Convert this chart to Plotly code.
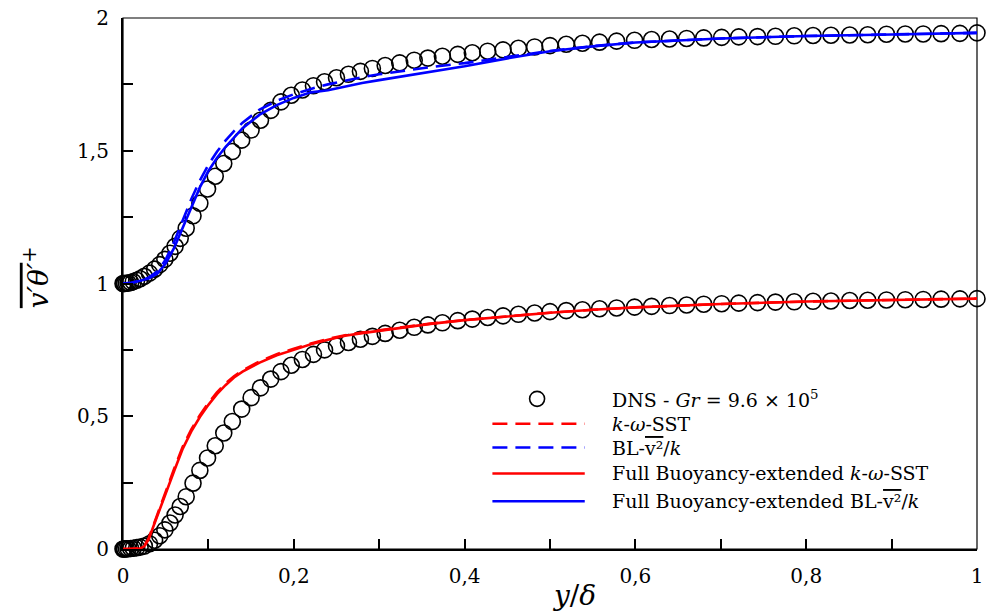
import plotly.graph_objects as go

# ---------------- data ----------------
X_DNS = [0.000, 0.001, 0.002, 0.004, 0.006, 0.009, 0.012, 0.016, 0.020, 0.025,
         0.031, 0.037, 0.043, 0.049, 0.055, 0.061, 0.067, 0.074, 0.082, 0.090,
         0.099, 0.108, 0.118, 0.128, 0.139, 0.150, 0.161, 0.173, 0.185, 0.197,
         0.210, 0.223, 0.236, 0.250, 0.264, 0.278, 0.292, 0.307, 0.324, 0.341,
         0.357, 0.374, 0.392, 0.409, 0.427, 0.445, 0.463, 0.482, 0.500, 0.519,
         0.538, 0.558, 0.578, 0.599, 0.619, 0.640, 0.660, 0.680, 0.701, 0.721,
         0.743, 0.764, 0.786, 0.808, 0.829, 0.851, 0.872, 0.894, 0.916, 0.937,
         0.958, 0.980, 1.000]

DNS_LOWER = [0.000, 0.000, 0.000, 0.001, 0.001, 0.002, 0.003, 0.005, 0.007, 0.011,
             0.020, 0.033, 0.050, 0.072, 0.098, 0.128, 0.160, 0.197, 0.248, 0.296,
             0.343, 0.389, 0.437, 0.480, 0.527, 0.570, 0.607, 0.640, 0.668, 0.692,
             0.714, 0.733, 0.750, 0.765, 0.778, 0.790, 0.801, 0.812, 0.824, 0.835,
             0.844, 0.852, 0.860, 0.866, 0.872, 0.878, 0.884, 0.889, 0.894, 0.898,
             0.901, 0.905, 0.908, 0.911, 0.914, 0.917, 0.919, 0.922, 0.924, 0.926,
             0.928, 0.930, 0.931, 0.933, 0.934, 0.936, 0.937, 0.938, 0.939, 0.940,
             0.941, 0.942, 0.943]

DNS_UPPER = [1.000, 1.000, 1.000, 1.001, 1.002, 1.004, 1.007, 1.012, 1.018, 1.027,
             1.039, 1.054, 1.071, 1.091, 1.114, 1.140, 1.170, 1.208, 1.255, 1.302,
             1.356, 1.404, 1.452, 1.497, 1.540, 1.578, 1.615, 1.652, 1.684, 1.709,
             1.729, 1.745, 1.760, 1.775, 1.788, 1.799, 1.810, 1.821, 1.831, 1.841,
             1.849, 1.856, 1.863, 1.869, 1.875, 1.880, 1.886, 1.891, 1.896, 1.901,
             1.905, 1.909, 1.913, 1.916, 1.919, 1.921, 1.923, 1.925, 1.927, 1.929,
             1.930, 1.931, 1.933, 1.934, 1.935, 1.936, 1.937, 1.939, 1.940, 1.940,
             1.941, 1.942, 1.944]

X_BLUE = [0.00, 0.01, 0.02, 0.03, 0.04, 0.05, 0.06, 0.07, 0.08, 0.09, 0.10, 0.11,
          0.12, 0.13, 0.14, 0.16, 0.18, 0.20, 0.22, 0.24, 0.26, 0.28, 0.30, 0.33,
          0.36, 0.40, 0.45, 0.50, 0.55, 0.60, 0.70, 0.80, 0.90, 1.00]
BL_V2K = [1.000, 1.003, 1.011, 1.022, 1.045, 1.090, 1.158, 1.238, 1.318, 1.388,
          1.447, 1.496, 1.538, 1.574, 1.606, 1.655, 1.688, 1.713, 1.733, 1.750,
          1.764, 1.777, 1.788, 1.802, 1.815, 1.830, 1.852, 1.876, 1.894, 1.908,
          1.923, 1.932, 1.938, 1.944]
FULL_BL_V2K = [1.000, 1.003, 1.010, 1.019, 1.037, 1.075, 1.135, 1.212, 1.292, 1.362,
               1.424, 1.473, 1.514, 1.551, 1.585, 1.636, 1.672, 1.699, 1.720, 1.728,
               1.742, 1.755, 1.766, 1.781, 1.796, 1.818, 1.848, 1.875, 1.893, 1.908,
               1.923, 1.932, 1.938, 1.944]

X_RED = [0.00, 0.01, 0.02, 0.025, 0.03, 0.035, 0.04, 0.05, 0.06, 0.07, 0.08, 0.09,
         0.10, 0.11, 0.12, 0.13, 0.14, 0.16, 0.18, 0.20, 0.22, 0.24, 0.26, 0.28,
         0.30, 0.33, 0.36, 0.40, 0.45, 0.50, 0.55, 0.60, 0.70, 0.80, 0.90, 1.00]
K_OMEGA_SST = [0.000, 0.000, 0.003, 0.012, 0.040, 0.085, 0.130, 0.217, 0.303, 0.386,
               0.451, 0.504, 0.550, 0.590, 0.623, 0.651, 0.673, 0.707, 0.734, 0.754,
               0.774, 0.791, 0.805, 0.815, 0.824, 0.838, 0.849, 0.862, 0.877, 0.890,
               0.901, 0.910, 0.923, 0.932, 0.938, 0.943]
FULL_K_OMEGA_SST = [0.000, 0.000, 0.002, 0.010, 0.036, 0.080, 0.124, 0.210, 0.295, 0.378,
                    0.443, 0.497, 0.543, 0.583, 0.617, 0.646, 0.668, 0.702, 0.730, 0.750,
                    0.771, 0.788, 0.803, 0.813, 0.822, 0.837, 0.848, 0.862, 0.877, 0.890,
                    0.901, 0.910, 0.923, 0.932, 0.938, 0.943]

X_TICKS = [0, 0.2, 0.4, 0.6, 0.8, 1.0]
X_TICK_TEXT = ["0", "0,2", "0,4", "0,6", "0,8", "1"]
Y_TICKS = [0, 0.5, 1.0, 1.5, 2.0]
Y_TICK_TEXT = ["0", "0,5", "1", "1,5", "2"]

LEGEND_LABELS = [
    "DNS - <i>Gr</i> = 9.6 × 10<sup>5</sup>",
    "<i>k</i>-<i>ω</i>-SST",
    "BL-<span style='text-decoration:overline'>v²</span>/<i>k</i>",
    "Full Buoyancy-extended <i>k</i>-<i>ω</i>-SST",
    "Full Buoyancy-extended BL-<span style='text-decoration:overline'>v²</span>/<i>k</i>",
]

# ---------------- styling ----------------
RED = "#ff0000"
BLUE = "#0000ff"
SERIF = "DejaVu Serif, Liberation Serif, serif"
DASH = "15px,8px"

fig = go.Figure()

for ys in (DNS_LOWER, DNS_UPPER):
    fig.add_trace(go.Scatter(x=X_DNS, y=ys, mode="markers", cliponaxis=False,
                             marker=dict(symbol="circle-open", size=16, color="black",
                                         line=dict(width=1.6, color="black")),
                             showlegend=False))

fig.add_trace(go.Scatter(x=X_RED, y=K_OMEGA_SST, mode="lines", line=dict(color=RED, width=2.6, dash=DASH),
                         showlegend=False))
fig.add_trace(go.Scatter(x=X_BLUE, y=BL_V2K, mode="lines", line=dict(color=BLUE, width=2.6, dash=DASH),
                         showlegend=False))
fig.add_trace(go.Scatter(x=X_RED, y=FULL_K_OMEGA_SST, mode="lines", line=dict(color=RED, width=2.6),
                         showlegend=False))
fig.add_trace(go.Scatter(x=X_BLUE, y=FULL_BL_V2K, mode="lines", line=dict(color=BLUE, width=2.6),
                         showlegend=False))

# ---------------- custom legend ----------------
PLOT_L, PLOT_R, PLOT_T, PLOT_B = 123, 983, 15, 549
def px_to_paper_x(px):
    return (px - PLOT_L) / (PLOT_R - PLOT_L)
def px_to_paper_y(py):
    return (PLOT_B - py) / (PLOT_B - PLOT_T)

row_y = [398, 423, 447, 473, 501]
line_x0, line_x1, text_x, circ_x = 495, 588, 613, 540
styles = [None, (RED, DASH), (BLUE, DASH), (RED, "solid"), (BLUE, "solid")]

shapes = []
annotations = []
for i, (label, st) in enumerate(zip(LEGEND_LABELS, styles)):
    yp = px_to_paper_y(row_y[i])
    if st is None:
        shapes.append(dict(type="circle", xref="paper", yref="paper",
                           xsizemode="pixel", ysizemode="pixel",
                           xanchor=px_to_paper_x(circ_x), yanchor=yp,
                           x0=-7.5, x1=7.5, y0=-7.5, y1=7.5,
                           line=dict(color="black", width=1.6)))
    else:
        shapes.append(dict(type="line", xref="paper", yref="paper",
                           x0=px_to_paper_x(line_x0), x1=px_to_paper_x(line_x1),
                           y0=yp, y1=yp, line=dict(color=st[0], width=2.6, dash=st[1])))
    annotations.append(dict(text=label, xref="paper", yref="paper",
                            x=px_to_paper_x(text_x), y=yp, xanchor="left", yanchor="middle",
                            showarrow=False, font=dict(family=SERIF, size=19, color="black")))

# frame (thin top/right)
shapes.append(dict(type="rect", xref="paper", yref="paper", x0=0, x1=1, y0=0, y1=1,
                   line=dict(color="black", width=1.2), layer="below"))

# axis titles
annotations.append(dict(text="<i>y</i>/<i>δ</i>", xref="paper", yref="paper",
                        x=px_to_paper_x(577), y=px_to_paper_y(596),
                        xanchor="center", yanchor="middle", showarrow=False,
                        font=dict(family=SERIF, size=28, color="black")))
annotations.append(dict(text="<span style='text-decoration:overline'><i>v′θ′</i></span><sup>+</sup>",
                        xref="paper", yref="paper", textangle=-90,
                        x=px_to_paper_x(36), y=px_to_paper_y(276),
                        xanchor="center", yanchor="middle", showarrow=False,
                        font=dict(family=SERIF, size=28, color="black")))

axis_common = dict(ticks="inside", ticklen=10, tickwidth=1.5, tickcolor="black",
                   showline=True, linewidth=2.2, linecolor="black",
                   showgrid=False, zeroline=False, ticklabelstandoff=8,
                   ticklabeloverflow="allow",
                   tickfont=dict(family=SERIF, size=20, color="black"))

fig.update_layout(
    width=989, height=615,
    margin=dict(l=PLOT_L, r=989 - PLOT_R, t=PLOT_T, b=615 - PLOT_B),
    plot_bgcolor="white", paper_bgcolor="white",
    showlegend=False,
    shapes=shapes, annotations=annotations,
    xaxis=dict(range=[0, 1], tickvals=X_TICKS, ticktext=X_TICK_TEXT,
               minor=dict(dtick=0.1, tick0=0, ticks="inside", ticklen=10, tickwidth=1.5,
                          tickcolor="black", showgrid=False),
               **axis_common),
    yaxis=dict(range=[0, 2], tickvals=Y_TICKS, ticktext=Y_TICK_TEXT,
               minor=dict(dtick=0.25, tick0=0, ticks="inside", ticklen=10, tickwidth=1.5,
                          tickcolor="black", showgrid=False),
               **axis_common),
)

fig.write_html("out.html",
               config={"displayModeBar": False},
               post_script="document.body.style.margin='0';document.body.style.padding='0';"
                           "document.body.style.overflow='hidden';")
